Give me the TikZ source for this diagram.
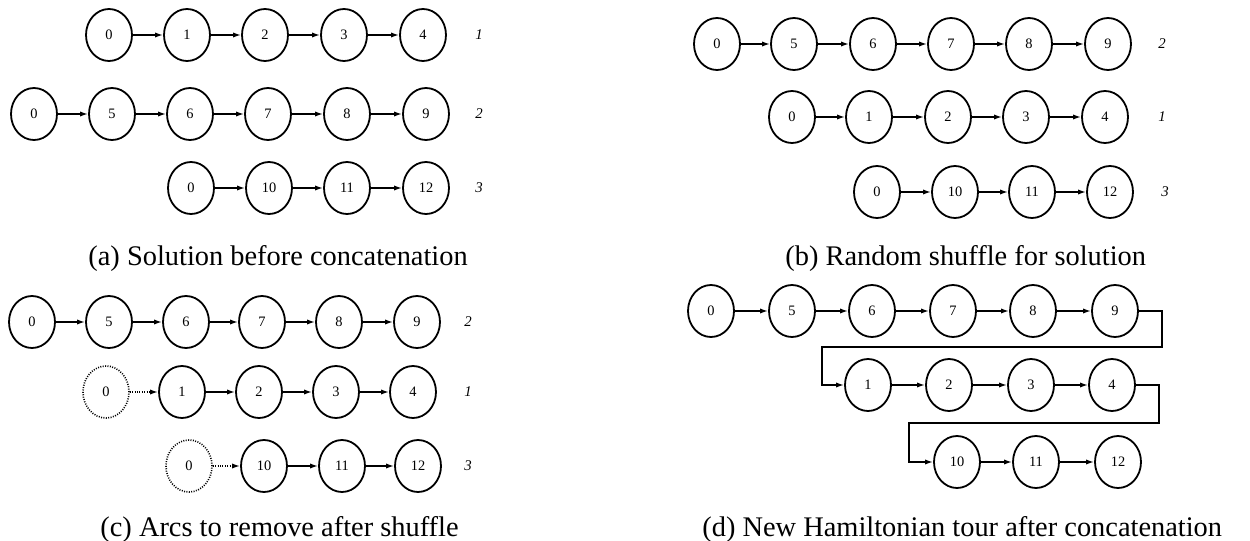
\documentclass[tikz,border=0pt]{standalone}
\usepackage{fontspec}
\setmainfont{Liberation Serif}
\usetikzlibrary{arrows.meta,shapes.geometric}

\tikzset{
  vtx/.style={ellipse, draw, line width=0.9pt, minimum width=23pt, minimum height=26pt,
              inner sep=0pt, font=\fontsize{7.2}{8}\selectfont},
  gone/.style={vtx, line width=0.8pt, dash pattern=on 0.5pt off 0.7pt},
  arr/.style={line width=0.75pt, -{Latex[length=4pt,width=2.6pt]}},
  garr/.style={arr, dash pattern=on 0.5pt off 0.7pt},
  rowlab/.style={font=\fontsize{7.4}{8}\selectfont\itshape},
  subcap/.style={anchor=west, font=\fontsize{14.2}{16}\selectfont, inner sep=0pt}
}

\begin{document}
\begin{tikzpicture}[x=0.5pt, y=-0.5pt]
\useasboundingbox (0,0) rectangle (1250,541);

% ---------- (a) ----------
\node[vtx] (a10) at (109,35) {0};
\node[vtx] (a11) at (187,35) {1};
\node[vtx] (a12) at (265,35) {2};
\node[vtx] (a13) at (344,35) {3};
\node[vtx] (a14) at (423,35) {4};
\node[rowlab] (al1) at (479,35) {1};
\draw[arr] (a10) -- (a11);
\draw[arr] (a11) -- (a12);
\draw[arr] (a12) -- (a13);
\draw[arr] (a13) -- (a14);

\node[vtx] (a20) at (34,114) {0};
\node[vtx] (a25) at (112,114) {5};
\node[vtx] (a26) at (190,114) {6};
\node[vtx] (a27) at (268,114) {7};
\node[vtx] (a28) at (347,114) {8};
\node[vtx] (a29) at (426,114) {9};
\node[rowlab] (al2) at (479,114) {2};
\draw[arr] (a20) -- (a25);
\draw[arr] (a25) -- (a26);
\draw[arr] (a26) -- (a27);
\draw[arr] (a27) -- (a28);
\draw[arr] (a28) -- (a29);

\node[vtx] (a30) at (191,188) {0};
\node[vtx] (a310) at (269,188) {10};
\node[vtx] (a311) at (347,188) {11};
\node[vtx] (a312) at (426,188) {12};
\node[rowlab] (al3) at (479,188) {3};
\draw[arr] (a30) -- (a310);
\draw[arr] (a310) -- (a311);
\draw[arr] (a311) -- (a312);

\node[subcap] (capa) at (88,259) {(a) Solution before concatenation};

% ---------- (b) ----------
\node[vtx] (b10) at (717,44) {0};
\node[vtx] (b15) at (794,44) {5};
\node[vtx] (b16) at (873,44) {6};
\node[vtx] (b17) at (951,44) {7};
\node[vtx] (b18) at (1029,44) {8};
\node[vtx] (b19) at (1108,44) {9};
\node[rowlab] (bl1) at (1162,44) {2};
\draw[arr] (b10) -- (b15);
\draw[arr] (b15) -- (b16);
\draw[arr] (b16) -- (b17);
\draw[arr] (b17) -- (b18);
\draw[arr] (b18) -- (b19);

\node[vtx] (b20) at (792,117) {0};
\node[vtx] (b21) at (869,117) {1};
\node[vtx] (b22) at (948,117) {2};
\node[vtx] (b23) at (1026,117) {3};
\node[vtx] (b24) at (1105,117) {4};
\node[rowlab] (bl2) at (1162,117) {1};
\draw[arr] (b20) -- (b21);
\draw[arr] (b21) -- (b22);
\draw[arr] (b22) -- (b23);
\draw[arr] (b23) -- (b24);

\node[vtx] (b30) at (877,192) {0};
\node[vtx] (b310) at (955,192) {10};
\node[vtx] (b311) at (1032,192) {11};
\node[vtx] (b312) at (1110,192) {12};
\node[rowlab] (bl3) at (1165,192) {3};
\draw[arr] (b30) -- (b310);
\draw[arr] (b310) -- (b311);
\draw[arr] (b311) -- (b312);

\node[subcap] (capb) at (785,259) {(b) Random shuffle for solution};

% ---------- (c) ----------
\node[vtx] (c10) at (32,322) {0};
\node[vtx] (c15) at (109,322) {5};
\node[vtx] (c16) at (186,322) {6};
\node[vtx] (c17) at (262,322) {7};
\node[vtx] (c18) at (339,322) {8};
\node[vtx] (c19) at (417,322) {9};
\node[rowlab] (cl1) at (468,322) {2};
\draw[arr] (c10) -- (c15);
\draw[arr] (c15) -- (c16);
\draw[arr] (c16) -- (c17);
\draw[arr] (c17) -- (c18);
\draw[arr] (c18) -- (c19);

\node[gone] (c20) at (106,392) {0};
\node[vtx] (c21) at (182,392) {1};
\node[vtx] (c22) at (259,392) {2};
\node[vtx] (c23) at (336,392) {3};
\node[vtx] (c24) at (413,392) {4};
\node[rowlab] (cl2) at (468,392) {1};
\draw[garr] (c20) -- (c21);
\draw[arr] (c21) -- (c22);
\draw[arr] (c22) -- (c23);
\draw[arr] (c23) -- (c24);

\node[gone] (c30) at (189,466) {0};
\node[vtx] (c310) at (264,466) {10};
\node[vtx] (c311) at (342,466) {11};
\node[vtx] (c312) at (418,466) {12};
\node[rowlab] (cl3) at (468,466) {3};
\draw[garr] (c30) -- (c310);
\draw[arr] (c310) -- (c311);
\draw[arr] (c311) -- (c312);

\node[subcap] (capc) at (100,530) {(c) Arcs to remove after shuffle};

% ---------- (d) ----------
\node[vtx] (d0) at (711,311) {0};
\node[vtx] (d5) at (792,311) {5};
\node[vtx] (d6) at (872,311) {6};
\node[vtx] (d7) at (953,311) {7};
\node[vtx] (d8) at (1033,311) {8};
\node[vtx] (d9) at (1115,311) {9};
\draw[arr] (d0) -- (d5);
\draw[arr] (d5) -- (d6);
\draw[arr] (d6) -- (d7);
\draw[arr] (d7) -- (d8);
\draw[arr] (d8) -- (d9);

\node[vtx] (d1) at (868,385) {1};
\node[vtx] (d2) at (949,385) {2};
\node[vtx] (d3) at (1031,385) {3};
\node[vtx] (d4) at (1112,385) {4};
\draw[arr] (d1) -- (d2);
\draw[arr] (d2) -- (d3);
\draw[arr] (d3) -- (d4);

\node[vtx] (d10) at (957,462) {10};
\node[vtx] (d11) at (1036,462) {11};
\node[vtx] (d12) at (1118,462) {12};
\draw[arr] (d10) -- (d11);
\draw[arr] (d11) -- (d12);

% joins between the concatenated rows
\coordinate (ja) at (1162,347);
\coordinate (jb) at (822,347);
\coordinate (jc) at (1159,423);
\coordinate (jd) at (909,423);
\draw[arr] (d9.east) -| (ja) -- (jb) |- (d1.west);
\draw[arr] (d4.east) -| (jc) -- (jd) |- (d10.west);

\node[subcap] (capd) at (702,530) {(d) New Hamiltonian tour after concatenation};
\end{tikzpicture}
\end{document}
